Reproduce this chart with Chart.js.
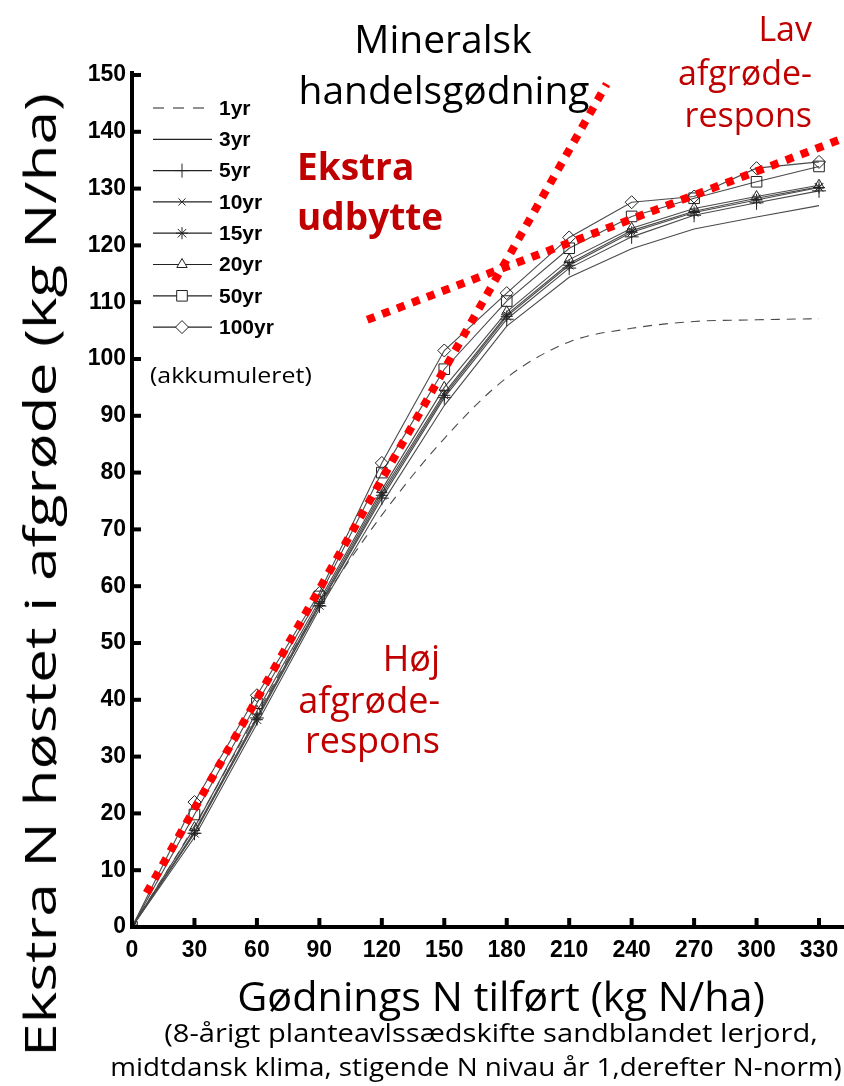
<!DOCTYPE html>
<html>
<head>
<meta charset="utf-8">
<script src="https://cdn.jsdelivr.net/npm/chart.js"></script>
<style>
  body { margin: 0; background: #fff; }
  #wrap { position: relative; width: 844px; height: 1086px; overflow: hidden; background: #fff; }
  #chart { position: absolute; left: 0; top: 0; }
  .txt { position: absolute; white-space: nowrap; line-height: 1; font-family: 'Open Sans', sans-serif; }
</style>
</head>
<body>
<div id="wrap">
  <canvas id="chart" width="844" height="1086"></canvas>
</div>
<script>
// gødning tilført (kg N/ha)
const doses = [0, 30, 60, 90, 120, 150, 180, 210, 240, 270, 300, 330];

// ekstra N høstet, akkumuleret over år
const yr1   = [0, 17.8, 37.5, 56.5, 72.5, 86.0, 96.7, 103.0, 105.4, 106.6, 106.9, 107.1];
const yr3   = [0, 15.8, 35.8, 56.0, 74.5, 91.8, 105.8, 114.4, 119.4, 122.9, 125.0, 127.0];
const yr5   = [0, 16.5, 36.8, 56.5, 75.5, 93.2, 107.0, 116.0, 121.5, 125.3, 127.5, 129.6];
const yr10  = [0, 16.8, 37.0, 57.0, 76.5, 94.0, 107.8, 116.8, 122.6, 126.0, 128.3, 130.3];
const yr15  = [0, 16.5, 36.5, 56.6, 76.0, 93.6, 107.5, 116.5, 122.3, 125.8, 128.0, 130.2];
const yr20  = [0, 17.5, 38.0, 57.5, 77.0, 95.0, 108.3, 117.5, 123.0, 126.5, 128.6, 130.6];
const yr50  = [0, 19.8, 39.4, 58.2, 80.0, 98.2, 110.2, 119.5, 125.1, 128.3, 131.2, 133.9];
const yr100 = [0, 22.0, 40.8, 58.8, 81.7, 101.5, 111.6, 121.4, 127.6, 128.6, 133.6, 134.7];

const seriesNames = ['1yr', '3yr', '5yr', '10yr', '15yr', '20yr', '50yr', '100yr'];
const seriesData = [yr1, yr3, yr5, yr10, yr15, yr20, yr50, yr100];

// røde hjælpelinjer (endepunkter)
const mineralX = [7, 228];
const mineralY = [6.0, 148.4];
const lavRespX = [113, 342];
const lavRespY = [106.9, 138.9];

const xTicks = [0, 30, 60, 90, 120, 150, 180, 210, 240, 270, 300, 330];
const yTicks = [0, 10, 20, 30, 40, 50, 60, 70, 80, 90, 100, 110, 120, 130, 140, 150];

const styles = [
  { dash: [9, 7], point: false, smooth: true },
  { point: false },
  { point: 'cross', r: 7 },
  { point: 'crossRot', r: 5 },
  { point: 'star', r: 6 },
  { point: 'triangle', r: 6 },
  { point: 'rect', r: 7.5 },
  { point: 'rectRot', r: 6.5 }
];

const red = '#ff0000';
const darkRed = '#c00000';

const datasets = [
  {
    data: mineralX.map((x, i) => ({ x: x, y: mineralY[i] })),
    borderColor: red, borderWidth: 8, borderDash: [8, 8], borderCapStyle: 'butt',
    pointRadius: 0, fill: false
  },
  {
    data: lavRespX.map((x, i) => ({ x: x, y: lavRespY[i] })),
    borderColor: red, borderWidth: 8, borderDash: [8, 8], borderCapStyle: 'butt',
    pointRadius: 0, fill: false
  }
];

seriesData.slice().reverse().forEach((vals, k) => {
  const i = seriesData.length - 1 - k;
  const st = styles[i];
  datasets.push({
    label: seriesNames[i],
    data: doses.map((d, j) => ({ x: d, y: vals[j] })),
    borderColor: '#4a4a4a',
    borderWidth: 1.1,
    borderDash: st.dash || [],
    cubicInterpolationMode: st.smooth ? 'monotone' : 'default',
    pointStyle: st.point || 'circle',
    pointRadius: st.point ? st.r : 0,
    pointBorderColor: '#222',
    pointBackgroundColor: 'rgba(255,255,255,0)',
    pointBorderWidth: 1,
    fill: false
  });
});

// tick-streger indad, som i originalen
const axisTicks = {
  id: 'axisTicks',
  afterDraw(chart) {
    const { ctx, chartArea, scales: { x, y } } = chart;
    ctx.save();
    ctx.fillStyle = '#000';
    yTicks.forEach(v => {
      const py = y.getPixelForValue(v);
      ctx.fillRect(chartArea.left, py - 2, 9, 4);
    });
    xTicks.forEach(v => {
      const px = x.getPixelForValue(v);
      ctx.fillRect(px - 2, chartArea.bottom - 9, 4, 9);
    });
    ctx.restore();
  }
};

// legenden ligger inde i plotområdet
const legendBox = {
  id: 'legendBox',
  afterDraw(chart) {
    const ctx = chart.ctx;
    ctx.save();
    seriesNames.forEach((name, i) => {
      const st = styles[i];
      const yy = 108 + i * 31.3;
      ctx.strokeStyle = '#222';
      ctx.lineWidth = 1.2;
      ctx.setLineDash(st.dash ? [11, 9] : []);
      ctx.beginPath();
      ctx.moveTo(153, yy);
      ctx.lineTo(212, yy);
      ctx.stroke();
      ctx.setLineDash([]);
      if (st.point) {
        ctx.fillStyle = '#fff';
        ctx.lineWidth = 1;
        Chart.helpers.drawPoint(ctx, { pointStyle: st.point, radius: st.r, borderWidth: 1, rotation: 0 }, 182, yy);
      }
      ctx.fillStyle = '#000';
      ctx.font = 'bold 21px "Liberation Sans"';
      ctx.textBaseline = 'middle';
      ctx.textAlign = 'left';
      ctx.fillText(name, 219, yy + 1);
    });
    ctx.restore();
  }
};

const tickFont = { family: 'Liberation Sans', size: 23, weight: 'bold' };

new Chart(document.getElementById('chart').getContext('2d'), {
  type: 'line',
  data: { datasets: datasets },
  options: {
    responsive: false,
    animation: false,
    devicePixelRatio: 1,
    layout: { autoPadding: false, padding: { top: 73, left: 0, right: 0, bottom: 0 } },
    plugins: { legend: { display: false }, tooltip: { enabled: false } },
    scales: {
      x: {
        type: 'linear', min: 0, max: 342,
        border: { color: '#000', width: 4 },
        grid: { drawOnChartArea: false, drawTicks: false },
        ticks: { color: '#000', font: tickFont, padding: 10, maxRotation: 0, autoSkip: false },
        afterBuildTicks: s => { s.ticks = xTicks.map(v => ({ value: v })); },
        afterFit: s => { s.height = 159; s.paddingLeft = 0; s.paddingRight = 0; }
      },
      y: {
        type: 'linear', min: 0, max: 150.35,
        border: { color: '#000', width: 4 },
        grid: { drawOnChartArea: false, drawTicks: false },
        ticks: { color: '#000', font: tickFont, padding: 6, autoSkip: false },
        afterBuildTicks: s => { s.ticks = yTicks.map(v => ({ value: v })); },
        afterFit: s => { s.width = 132; }
      }
    }
  },
  plugins: [axisTicks, legendBox]
});

// tekster oven på grafen
const wrap = document.getElementById('wrap');
const texts = [
  { t: 'Mineralsk', x: 443, y: 37, s: 39, a: 'c' },
  { t: 'handelsgødning', x: 444, y: 88, s: 39, a: 'c' },
  { t: 'Lav', x: 812, y: 28, s: 34, a: 'r', c: darkRed },
  { t: 'afgrøde-', x: 812, y: 72, s: 34, a: 'r', c: darkRed },
  { t: 'respons', x: 812, y: 114, s: 34, a: 'r', c: darkRed },
  { t: 'Ekstra', x: 297, y: 165, s: 37, a: 'l', c: darkRed, b: true },
  { t: 'udbytte', x: 297, y: 215, s: 37, a: 'l', c: darkRed, b: true },
  { t: 'Høj', x: 440, y: 658, s: 36, a: 'r', c: darkRed },
  { t: 'afgrøde-', x: 440, y: 700, s: 36, a: 'r', c: darkRed },
  { t: 'respons', x: 440, y: 740, s: 36, a: 'r', c: darkRed },
  { t: '(akkumuleret)', x: 150, y: 374, s: 22, a: 'l', w: 162 },
  { t: 'Gødnings N tilført (kg N/ha)', x: 501, y: 996, s: 40, a: 'c', w: 528 },
  { t: '(8-årigt planteavlssædskifte sandblandet lerjord,', x: 491, y: 1032, s: 25, a: 'c', w: 653 },
  { t: 'midtdansk klima, stigende N nivau år 1,derefter N-norm)', x: 476, y: 1066, s: 25, a: 'c', w: 732 }
];

function placeText(o) {
  const el = document.createElement('div');
  el.className = 'txt';
  el.textContent = o.t;
  el.style.fontSize = o.s + 'px';
  el.style.fontWeight = o.b ? '700' : '400';
  el.style.color = o.c || '#000';
  wrap.appendChild(el);
  const k = o.w ? o.w / el.offsetWidth : 1;
  const shift = o.a === 'l' ? '0' : o.a === 'r' ? '-100%' : '-50%';
  el.style.left = o.x + 'px';
  el.style.top = o.y + 'px';
  el.style.transformOrigin = o.a === 'l' ? 'left center' : o.a === 'r' ? 'right center' : 'center center';
  el.style.transform = 'translate(' + shift + ', -50%) scaleX(' + k + ')';
}
texts.forEach(placeText);

// y-aksens titel, drejet
const yTitle = document.createElement('div');
yTitle.className = 'txt';
yTitle.textContent = 'Ekstra N høstet i afgrøde (kg N/ha)';
yTitle.style.fontSize = '44px';
wrap.appendChild(yTitle);
const ky = 964 / yTitle.offsetWidth;
yTitle.style.left = '39px';
yTitle.style.top = '575px';
yTitle.style.transform = 'translate(-50%, -50%) rotate(-90deg) scaleX(' + ky + ')';
</script>
</body>
</html>
